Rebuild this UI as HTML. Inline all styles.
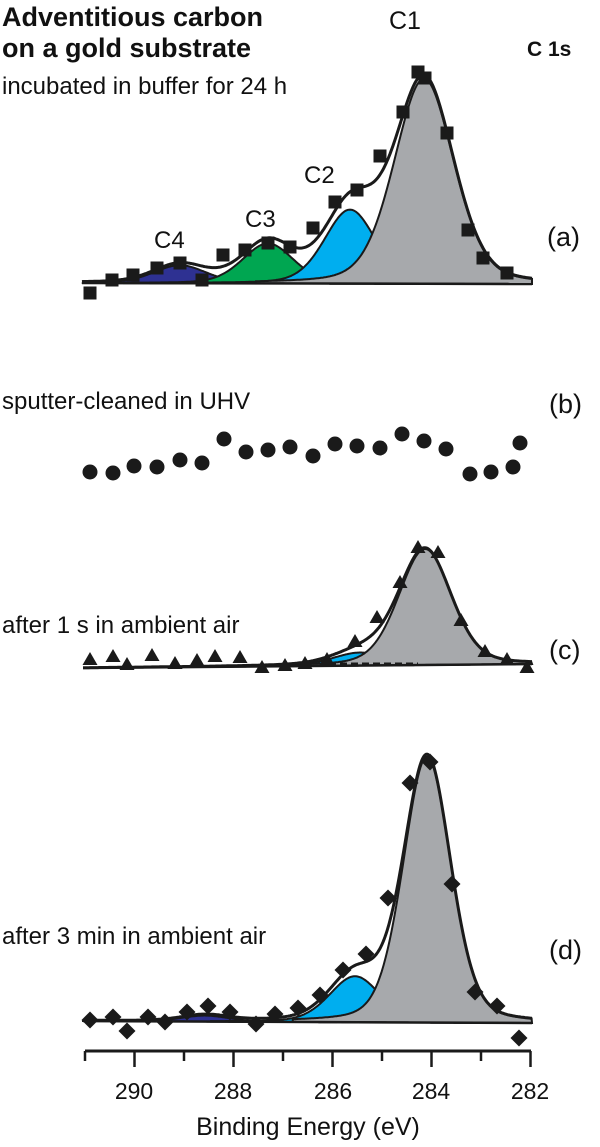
<!DOCTYPE html>
<html><head><meta charset="utf-8"><style>
html,body{margin:0;padding:0;background:#fff;}
svg{display:block;}
text{font-family:"Liberation Sans",Arial,sans-serif;fill:#111;}
</style></head><body>
<svg id="s" width="600" height="1147" viewBox="0 0 600 1147" xmlns="http://www.w3.org/2000/svg">
<g id="g"></g>
<text x="2" y="26" font-size="27" font-weight="bold">Adventitious carbon</text>
<text x="2" y="57" font-size="27" font-weight="bold">on a gold substrate</text>
<text x="527" y="56" font-size="21" font-weight="bold">C 1s</text>
<text x="389" y="29" font-size="25">C1</text>
<text x="2" y="94" font-size="24">incubated in buffer for 24 h</text>
<text x="304" y="183" font-size="24">C2</text>
<text x="245" y="227" font-size="24">C3</text>
<text x="154" y="248" font-size="24">C4</text>
<text x="547" y="246" font-size="27">(a)</text>
<text x="2" y="409" font-size="24">sputter-cleaned in UHV</text>
<text x="549" y="413" font-size="27">(b)</text>
<text x="2" y="633" font-size="24">after 1 s in ambient air</text>
<text x="549" y="659" font-size="27">(c)</text>
<text x="2" y="944" font-size="24">after 3 min in ambient air</text>
<text x="549" y="959" font-size="27">(d)</text>
<g font-size="23" text-anchor="middle">
<text x="134" y="1099">290</text>
<text x="233" y="1099">288</text>
<text x="333" y="1099">286</text>
<text x="431" y="1099">284</text>
<text x="530" y="1099">282</text>
</g>
<text x="308" y="1135" font-size="25" text-anchor="middle">Binding Energy (eV)</text>
</svg>
<script>
var g=document.getElementById('g'),NS='http://www.w3.org/2000/svg';
function el(t,a){var e=document.createElementNS(NS,t);for(var k in a)e.setAttribute(k,a[k]);g.appendChild(e);return e;}
function pv(x,c,h,w){var u=(x-c)/w;return h*(0.75*Math.exp(-4*Math.LN2*u*u)+0.25/(1+4*u*u));}
function panel(base,comps,colors,x0,x1){
 var bl=function(x){return base[0]+(base[1]-base[0])*(x-x0)/(x1-x0);};
 comps.forEach(function(c,i){
  var d='',a=Math.max(x0,c[0]-2.4*c[2]),b=Math.min(x1,c[0]+2.4*c[2]);
  for(var x=a;x<=b;x+=1){d+=(x==a?'M':'L')+x+','+(bl(x)-pv(x,c[0],c[1],c[2])).toFixed(1);}
  for(var x=b;x>=a;x-=1){d+='L'+x+','+bl(x).toFixed(1);}
  el('path',{d:d+'Z',fill:colors[i],stroke:'#1a1a1a','stroke-width':2});
 });
 var d='';
 for(var x=x0;x<=x1;x+=1){var y=bl(x);comps.forEach(function(c){y-=pv(x,c[0],c[1],c[2]);});d+=(x==x0?'M':'L')+x+','+y.toFixed(1);}
 el('path',{d:d,fill:'none',stroke:'#1a1a1a','stroke-width':3});
 el('line',{x1:x0,y1:base[0],x2:x1,y2:base[1],stroke:'#1a1a1a','stroke-width':2.5});
}
// (a)
panel([283,284],[[180,18,62],[268,40,60],[350,74,60],[424,205,70]],['#2e3192','#00a651','#00aeef','#a7a9ac'],82,532);
[[90,293],[112,280],[133,275],[157,268],[180,263],[202,280],[223,255],[245,250],[268,243],[290,247],[313,228],[335,202],[357,190],[380,156],[403,112],[418,72],[425,78],[447,133],[468,230],[483,258],[507,273]].forEach(function(p){el('rect',{x:p[0]-6.5,y:p[1]-6.5,width:13,height:13,fill:'#1a1a1a'});});
// (b)
[[90,472],[113,473],[134,466],[157,467],[180,460],[202,463],[224,439],[246,452],[268,450],[290,447],[313,456],[335,444],[357,446],[380,448],[402,434],[424,441],[446,449],[470,474],[491,472],[513,467],[520,443]].forEach(function(p){el('circle',{cx:p[0],cy:p[1],r:7.5,fill:'#1a1a1a'});});
// (c)
panel([668,664],[[360,13,64],[425,116,62]],['#00aeef','#a7a9ac'],83,532);
el('line',{x1:318,y1:663.5,x2:418,y2:663.5,stroke:'#1a1a1a','stroke-width':2,'stroke-dasharray':'7,4'});
[[90,660],[113,657],[127,665],[152,656],[175,664],[197,661],[215,657],[240,658],[262,668],[285,666],[305,664],[327,660],[355,642],[377,618],[400,583],[418,548],[438,553],[461,621],[485,652],[507,660],[527,668]].forEach(function(p){el('polygon',{points:(p[0])+','+(p[1]-8)+' '+(p[0]-7.5)+','+(p[1]+5)+' '+(p[0]+7.5)+','+(p[1]+5),fill:'#1a1a1a'});});
// (d)
panel([1021,1023],[[205,6,55],[355,46,60],[427,266,56]],['#2e3192','#00aeef','#a7a9ac'],83,532);
[[90,1020],[113,1017],[127,1031],[148,1017],[165,1022],[187,1012],[208,1006],[230,1012],[256,1024],[275,1014],[298,1008],[320,995],[343,970],[366,954],[388,898],[410,783],[430,762],[452,884],[475,992],[497,1006],[519,1038]].forEach(function(p){el('polygon',{points:p[0]+','+(p[1]-8.5)+' '+(p[0]+8.5)+','+p[1]+' '+p[0]+','+(p[1]+8.5)+' '+(p[0]-8.5)+','+p[1],fill:'#1a1a1a'});});
// axis
el('line',{x1:85,y1:1051,x2:531,y2:1051,stroke:'#1a1a1a','stroke-width':3});
for(var i=0;i<=9;i++){var x=85+i*49.5;el('line',{x1:x,y1:1051,x2:x,y2:i%2==1||i==9?1067:1061,stroke:'#1a1a1a','stroke-width':2.5});}
</script>
</body></html>
